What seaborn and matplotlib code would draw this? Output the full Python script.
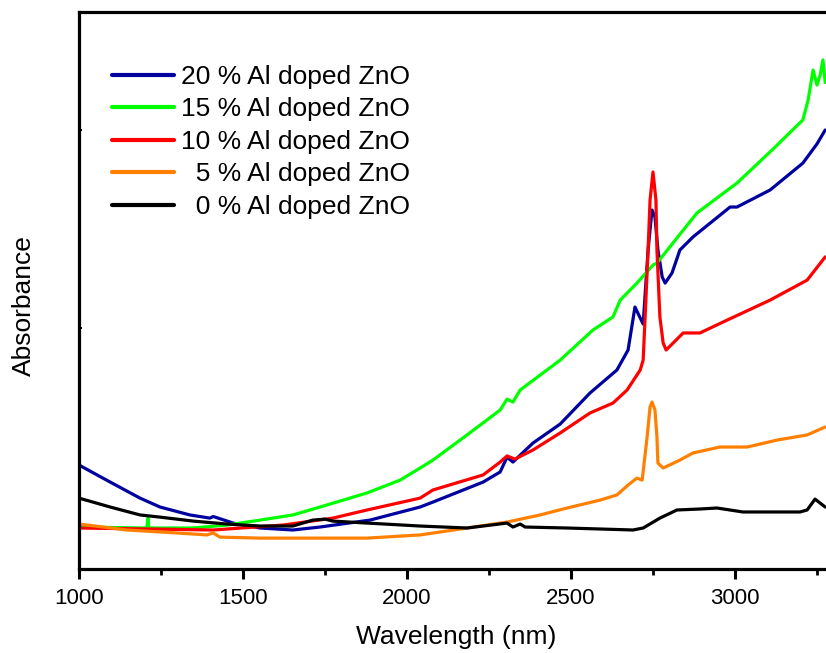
import numpy as np
import pandas as pd
import matplotlib
matplotlib.use("Agg")
import matplotlib.pyplot as plt
import seaborn as sns
from matplotlib.ticker import MultipleLocator

# ---- data (wavelength in nm, absorbance in a.u.) ----
labels = ["20 % Al doped ZnO", "15 % Al doped ZnO", "10 % Al doped ZnO",
          "  5 % Al doped ZnO", "  0 % Al doped ZnO"]
colors = ["#0000A0", "#00FF00", "#FF0000", "#FF8000", "#000000"]

wl_20 = [1000, 1095, 1186, 1247, 1338, 1399, 1409, 1415, 1470, 1552, 1652, 1735, 1887,
         2040, 2079, 2232, 2284, 2305, 2323, 2384, 2467, 2558, 2640, 2674, 2695, 2720,
         2735, 2747, 2756, 2765, 2778, 2787, 2808, 2832, 2872, 2985, 3006, 3107, 3207,
         3250, 3275]
ab_20 = [0.308, 0.222, 0.141, 0.096, 0.056, 0.040, 0.048, 0.045, 0.015, -0.010, -0.020,
         -0.005, 0.030, 0.096, 0.121, 0.222, 0.273, 0.348, 0.323, 0.419, 0.515, 0.672,
         0.788, 0.889, 1.106, 1.020, 1.394, 1.596, 1.561, 1.394, 1.258, 1.227, 1.278,
         1.394, 1.460, 1.611, 1.611, 1.697, 1.833, 1.930, 2.000]

wl_15 = [1000, 1207, 1210, 1213, 1348, 1451, 1552, 1652, 1735, 1878, 1979, 2040, 2079,
         2183, 2284, 2305, 2323, 2345, 2467, 2567, 2628, 2650, 2701, 2750, 2762, 2884,
         3006, 3113, 3207, 3223, 3238, 3250, 3260, 3268, 3275]
ab_15 = [-0.005, -0.010, 0.040, -0.010, -0.010, 0.005, 0.030, 0.056, 0.096, 0.167, 0.232,
         0.293, 0.333, 0.460, 0.586, 0.641, 0.626, 0.687, 0.838, 0.990, 1.056, 1.141,
         1.227, 1.318, 1.328, 1.581, 1.732, 1.899, 2.051, 2.152, 2.303, 2.227, 2.280,
         2.354, 2.240]

wl_10 = [1000, 1216, 1409, 1622, 1774, 1878, 2040, 2079, 2232, 2284, 2305, 2329, 2384,
         2467, 2558, 2628, 2671, 2711, 2720, 2726, 2735, 2741, 2750, 2759, 2762, 2771,
         2781, 2790, 2842, 2893, 2976, 3107, 3220, 3275]
ab_10 = [-0.010, -0.015, -0.020, 0.005, 0.040, 0.081, 0.141, 0.182, 0.258, 0.323, 0.354,
         0.338, 0.384, 0.470, 0.571, 0.621, 0.687, 0.788, 0.838, 1.056, 1.394, 1.646,
         1.788, 1.646, 1.394, 1.056, 0.924, 0.889, 0.975, 0.975, 1.040, 1.141, 1.242, 1.359]

wl_5 = [1000, 1146, 1299, 1390, 1409, 1430, 1552, 1735, 1878, 2040, 2183, 2305, 2406,
        2488, 2589, 2640, 2674, 2701, 2717, 2732, 2741, 2747, 2756, 2762, 2765, 2781,
        2832, 2872, 2954, 3037, 3128, 3220, 3275]
ab_5 = [0.010, -0.020, -0.035, -0.045, -0.035, -0.056, -0.061, -0.061, -0.061, -0.045,
        -0.010, 0.020, 0.056, 0.091, 0.131, 0.157, 0.207, 0.242, 0.232, 0.449, 0.601,
        0.626, 0.586, 0.449, 0.318, 0.293, 0.333, 0.369, 0.399, 0.399, 0.434, 0.460, 0.500]

wl_0 = [1000, 1095, 1186, 1247, 1348, 1451, 1552, 1652, 1713, 1750, 1774, 1878, 2040,
        2183, 2305, 2323, 2345, 2360, 2488, 2689, 2720, 2771, 2823, 2893, 2945, 3024,
        3198, 3220, 3244, 3275]
ab_0 = [0.141, 0.096, 0.056, 0.045, 0.025, 0.010, 0.000, 0.000, 0.030, 0.035, 0.025,
        0.015, 0.000, -0.010, 0.015, -0.005, 0.010, -0.005, -0.010, -0.020, -0.010,
        0.040, 0.081, 0.086, 0.091, 0.071, 0.071, 0.081, 0.136, 0.096]

xticks = [1000, 1500, 2000, 2500, 3000]

series = [(wl_20, ab_20), (wl_15, ab_15), (wl_10, ab_10), (wl_5, ab_5), (wl_0, ab_0)]
frames = []
for lab, (w, a) in zip(labels, series):
    frames.append(pd.DataFrame({"Wavelength": w, "Absorbance": a, "Sample": lab}))
df = pd.concat(frames, ignore_index=True)

# ---- style ----
sns.set_style("ticks")
plt.rcParams["font.family"] = ["Liberation Sans", "DejaVu Sans"]
plt.rcParams["text.color"] = "black"
plt.rcParams["axes.labelcolor"] = "black"
plt.rcParams["xtick.color"] = "black"
plt.rcParams["ytick.color"] = "black"

fig = plt.figure(figsize=(8.26, 6.53), dpi=100)
W, H = 826, 653
left, right_px, top_px, bot_px = 79, 79 + 2300 * 0.328, 12, 569
axw, axh = right_px - left, bot_px - top_px
ax = fig.add_axes([left / W, 1 - bot_px / H, axw / W, axh / H])

sns.lineplot(data=df, x="Wavelength", y="Absorbance", hue="Sample",
             hue_order=labels, palette=colors, sort=False, estimator=None,
             linewidth=2.3, ax=ax)

ax.set_xlim(1000, 3300)
ax.set_ylim(-0.217, 2.596)
ax.set_xticks(xticks)
ax.xaxis.set_minor_locator(MultipleLocator(250))
ax.set_yticks([1, 2])
ax.set_yticklabels([])
ax.tick_params(axis="x", which="major", direction="out", length=7, width=2.2,
               labelsize=16, pad=7, labelcolor="black")
ax.tick_params(axis="x", which="minor", direction="out", length=4, width=2.0)
ax.tick_params(axis="y", which="major", direction="in", length=2, width=1.5)

for s in ax.spines.values():
    s.set_linewidth(2.3)
    s.set_visible(True)
    s.set_color("black")

ax.set_xlabel("Wavelength (nm)", fontsize=19, labelpad=11, color="black")
ax.set_ylabel("Absorbance", fontsize=19, color="black")
ax.yaxis.set_label_coords(-0.057, 0.473)

handles, labs = ax.get_legend_handles_labels()
leg = ax.legend(handles, labs, loc="upper left",
                bbox_to_anchor=((112 - left) / axw, (bot_px - 65) / axh),
                frameon=False, fontsize=19, handlelength=2.35, handletextpad=0.25,
                labelspacing=0.32, borderaxespad=0, borderpad=0)
for lh in leg.get_lines():
    lh.set_linewidth(3.0)
for t in leg.get_texts():
    t.set_color("black")

fig.savefig("out.png", dpi=100)
